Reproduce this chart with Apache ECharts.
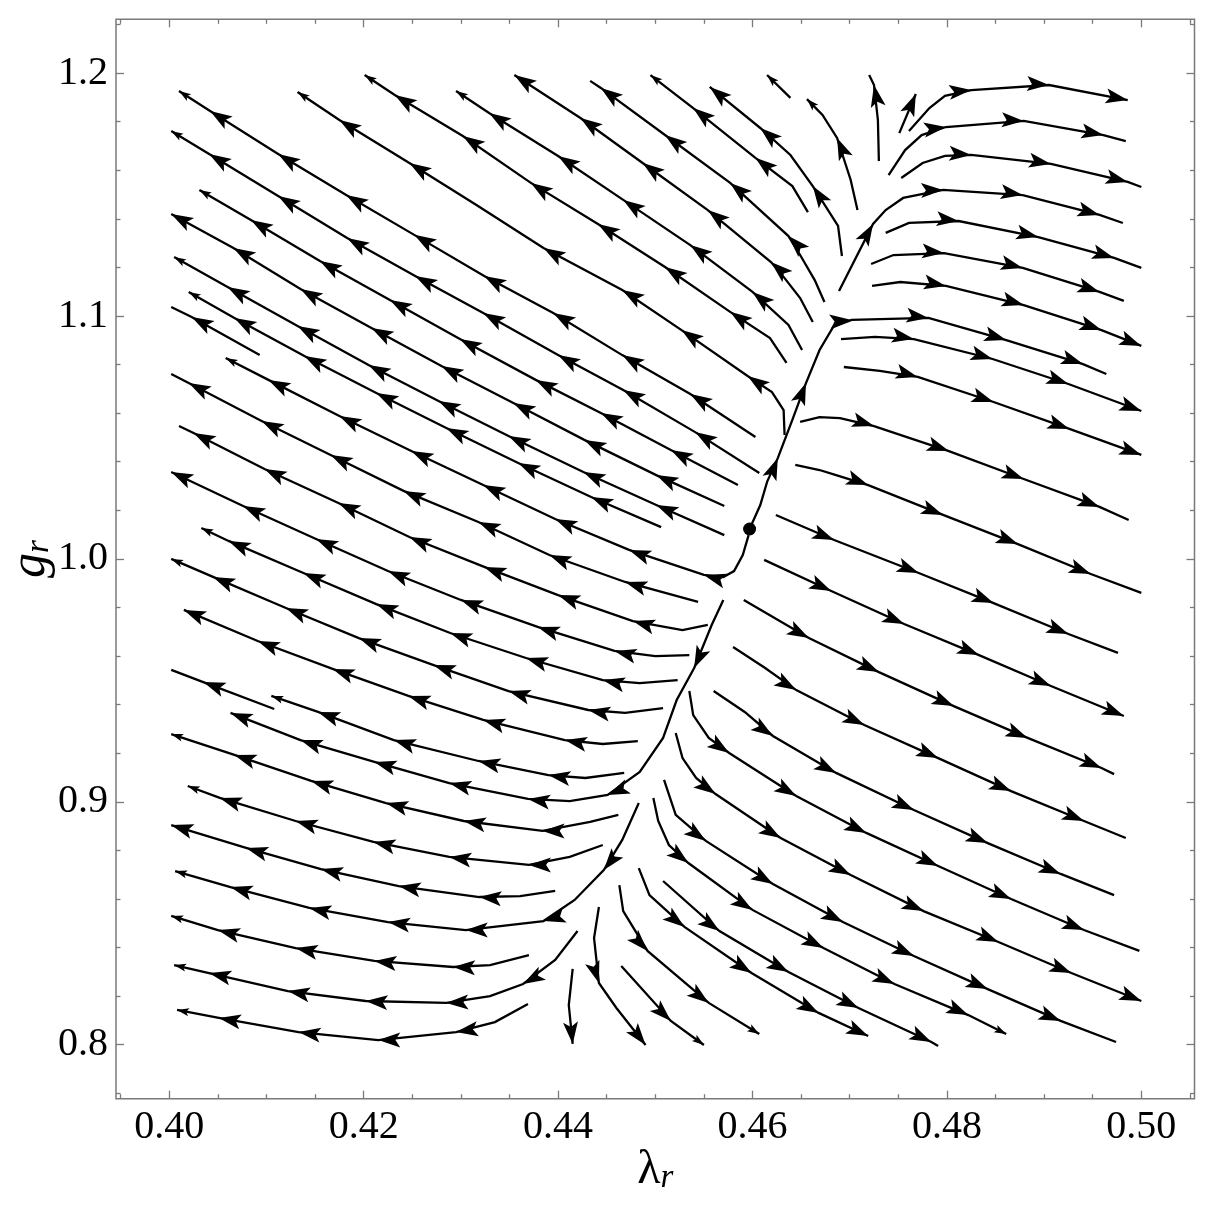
<!DOCTYPE html>
<html>
<head>
<meta charset="utf-8">
<script src="https://cdn.jsdelivr.net/npm/echarts@6.0.0/dist/echarts.min.js"></script>
<style>
  html, body { margin: 0; padding: 0; background: #fff; }
  #chart { width: 1206px; height: 1212px; }
</style>
</head>
<body>
<div id="chart"></div>
<script>
// axis extents and ticks
const xMin = 0.39452, xMax = 0.50547;
const yMin = 0.77777, yMax = 1.22215;
const xMajorTicks = [0.40, 0.42, 0.44, 0.46, 0.48, 0.50];
const xMinorTicks = [0.395, 0.405, 0.41, 0.415, 0.425, 0.43, 0.435, 0.445, 0.45, 0.455,
  0.465, 0.47, 0.475, 0.485, 0.49, 0.495, 0.505];
const yMajorTicks = [0.8, 0.9, 1.0, 1.1, 1.2];
const yMinorTicks = [0.78, 0.82, 0.84, 0.86, 0.88, 0.92, 0.94, 0.96, 0.98, 1.02, 1.04,
  1.06, 1.08, 1.12, 1.14, 1.16, 1.18, 1.22];

// fixed point (lambda_r, g_r)
const fixedPoint = [[0.4597, 1.0123]];

// streamlines, points in flow order.
// [lambda, g] = arrowhead here, [lambda, g, 0] = plain vertex, [lambda, g, 1] = small end arrowhead
const topLines = [
  [[0.4708,1.1436,0],[0.4701,1.1560,0],[0.4687,1.1733],[0.4672,1.1828,0],[0.4656,1.1893,1]],
  [[0.4692,1.1247,0],[0.4688,1.1371,0],[0.4662,1.1535],[0.4639,1.1663,0],[0.4608,1.1774],[0.4556,1.1943]],
  [[0.4657,1.1428,0],[0.4641,1.1535,0],[0.4603,1.1651],[0.4539,1.1856],[0.4495,1.1992,1]],
  [[0.4674,1.1058,0],[0.4664,1.1148,0],[0.4649,1.1251,0],[0.4637,1.1329],[0.4577,1.1548],[0.4510,1.1745],[0.4444,1.1939],[0.4433,1.1968,0]],
  [[0.4662,1.0975,0],[0.4649,1.1074,0],[0.4633,1.1156,0],[0.4619,1.1222],[0.4554,1.1436],[0.4487,1.1630],[0.4423,1.1815],[0.4355,1.1992]],
  [[0.4651,1.0860,0],[0.4637,1.0963,0],[0.4600,1.1099],[0.4536,1.1292],[0.4467,1.1478],[0.4400,1.1659],[0.4329,1.1836],[0.4295,1.1926,1]],
  [[0.4635,1.0807,0],[0.4618,1.0909,0],[0.4577,1.1017],[0.4510,1.1202],[0.4441,1.1379],[0.4372,1.1548],[0.4302,1.1741],[0.4232,1.1910],[0.4201,1.1992,1]],
  [[0.4633,1.0510,0],[0.4632,1.0613,0],[0.4620,1.0687,0],[0.4595,1.0753],[0.4527,1.0942],[0.4466,1.1107],[0.4385,1.1280],[0.4316,1.1457,0],[0.4247,1.1630],[0.4175,1.1807],[0.4132,1.1922,1]],
  [[0.4639,1.1898,0],[0.4615,1.1992,1]],
  [[0.4730,1.1638,0],[0.4729,1.1807,0],[0.4725,1.1951],[0.4720,1.1992,0]],
  [[0.4751,1.1753,0],[0.4768,1.1914]]
];

const upperLeftLines = [
  [[0.4603,1.0502,0],[0.4536,1.0679],[0.4466,1.0839],[0.4395,1.1012],[0.4324,1.1165],[0.4252,1.1334],[0.4182,1.1498],[0.4112,1.1667],[0.4042,1.1844],[0.4010,1.1926,1]],
  [[0.4607,1.0354,0],[0.4541,1.0522],[0.4467,1.0695],[0.4400,1.0839],[0.4323,1.1012],[0.4253,1.1165],[0.4183,1.1321],[0.4112,1.1494],[0.4041,1.1667],[0.4002,1.1762,1]],
  [[0.4585,1.0304,0],[0.4516,1.0448],[0.4444,1.0601],[0.4377,1.0737],[0.4299,1.0905],[0.4227,1.1066],[0.4155,1.1226],[0.4084,1.1395],[0.4031,1.1519,1]],
  [[0.4571,1.0218,0],[0.4501,1.0345],[0.4427,1.0490],[0.4354,1.0642],[0.4280,1.0794],[0.4208,1.0951],[0.4135,1.1111],[0.4066,1.1280],[0.4002,1.1420]],
  [[0.4571,1.0098,0],[0.4501,1.0222],[0.4426,1.0358],[0.4349,1.0506],[0.4277,1.0650],[0.4205,1.0798],[0.4132,1.0959],[0.4060,1.1119],[0.4005,1.1243,1]],
  [[0.4506,1.0131,0],[0.4434,1.0255],[0.4359,1.0395],[0.4285,1.0539],[0.4213,1.0683],[0.4139,1.0835],[0.4067,1.0992],[0.4020,1.1099,1]],
  [[0.4093,1.0839,0],[0.4023,1.0996],[0.4002,1.1037,0]],
  [[0.4596,1.0098,0],[0.4590,1.0016,0],[0.4581,0.9950,0],[0.4570,0.9925,0],[0.4550,0.9934],[0.4473,1.0037],[0.4397,1.0164],[0.4323,1.0304],[0.4249,1.0444],[0.4175,1.0588],[0.4102,1.0737],[0.4058,1.0827,1]]
];

const lowerLeftLines = [
  [[0.4544,0.9823,0],[0.4469,0.9905],[0.4391,1.0016],[0.4318,1.0152],[0.4241,1.0280],[0.4166,1.0428],[0.4095,1.0568],[0.4020,1.0724],[0.4002,1.0761,0]],
  [[0.4554,0.9728,0],[0.4528,0.9707,0],[0.4477,0.9744],[0.4400,0.9851],[0.4324,0.9967],[0.4247,1.0090],[0.4174,1.0230],[0.4098,1.0370],[0.4025,1.0518],[0.4010,1.0547,0]],
  [[0.4535,0.9604,0],[0.4500,0.9600,0],[0.4458,0.9621],[0.4379,0.9720],[0.4300,0.9831],[0.4225,0.9950],[0.4151,1.0082],[0.4076,1.0218],[0.4002,1.0358]],
  [[0.4523,0.9501,0],[0.4484,0.9489,0],[0.4446,0.9501],[0.4367,0.9592],[0.4289,0.9695],[0.4213,0.9814],[0.4138,0.9942],[0.4061,1.0074],[0.4033,1.0127,1]],
  [[0.4508,0.9386,0],[0.4469,0.9366,0],[0.4431,0.9378],[0.4349,0.9456],[0.4272,0.9563],[0.4195,0.9674],[0.4120,0.9798],[0.4045,0.9926],[0.4002,1.0000,1]],
  [[0.4482,0.9250,0],[0.4446,0.9238,0],[0.4407,0.9254],[0.4323,0.9337],[0.4246,0.9436],[0.4168,0.9547],[0.4091,0.9662],[0.4015,0.9790]],
  [[0.4108,0.9382,0],[0.4035,0.9493],[0.4002,0.9543,0]],
  [[0.4468,0.9119,0],[0.4428,0.9098,0],[0.4390,0.9110],[0.4318,0.9168],[0.4231,0.9254],[0.4153,0.9370],[0.4105,0.9436,1]],
  [[0.4570,0.9831,0],[0.4558,0.9728,0],[0.4540,0.9551],[0.4522,0.9419,0],[0.4508,0.9263,0],[0.4484,0.9123,0],[0.4451,0.9028],[0.4412,0.9003,0],[0.4369,0.9012],[0.4288,0.9077],[0.4211,0.9164],[0.4135,0.9254],[0.4063,0.9366]],
  [[0.4462,0.8946,0],[0.4433,0.8917,0],[0.4384,0.8880],[0.4303,0.8921],[0.4223,0.8995],[0.4146,0.9086],[0.4067,0.9193],[0.4002,0.9279,1]],
  [[0.4446,0.8822,0],[0.4412,0.8773,0],[0.4370,0.8740],[0.4288,0.8773],[0.4210,0.8835],[0.4130,0.8921],[0.4052,0.9016],[0.4019,0.9065,1]],
  [[0.4397,0.8633,0],[0.4361,0.8612,0],[0.4319,0.8608],[0.4236,0.8653],[0.4156,0.8723],[0.4079,0.8810],[0.4002,0.8904]],
  [[0.4483,0.8995,0],[0.4466,0.8843,0],[0.4447,0.8719],[0.4417,0.8596,0],[0.4385,0.8509],[0.4305,0.8472],[0.4225,0.8505],[0.4144,0.8563],[0.4063,0.8649],[0.4006,0.8715,1]],
  [[0.4370,0.8369,0],[0.4330,0.8328,0],[0.4292,0.8320],[0.4211,0.8345],[0.4130,0.8398],[0.4050,0.8472],[0.4002,0.8530,1]],
  [[0.4420,0.8468,0],[0.4397,0.8349,0],[0.4364,0.8250],[0.4330,0.8200,0],[0.4285,0.8172],[0.4202,0.8180],[0.4122,0.8221],[0.4041,0.8295],[0.4005,0.8328,1]],
  [[0.4369,0.8168,0],[0.4335,0.8093,0],[0.4295,0.8052],[0.4215,0.8019],[0.4133,0.8052],[0.4051,0.8110],[0.4008,0.8143,1]]
];

const rightLines = [
  [[0.4597,1.0123,0],[0.4608,1.0222,0],[0.4615,1.0317,0],[0.4626,1.0415],[0.4641,1.0572,0],[0.4655,1.0724],[0.4669,1.0860,0],[0.4683,1.0955,0],[0.4702,1.0984],[0.4781,1.0992],[0.4861,1.0901],[0.4940,1.0802],[0.4964,1.0761,0]],
  [[0.4761,1.1762,0],[0.4782,1.1856,0],[0.4798,1.1906,0],[0.4825,1.1930],[0.4905,1.1951],[0.4986,1.1889]],
  [[0.4740,1.1580,0],[0.4757,1.1683,0],[0.4774,1.1745,0],[0.4799,1.1778],[0.4879,1.1803],[0.4961,1.1745],[0.4984,1.1720,0]],
  [[0.4753,1.1568,0],[0.4775,1.1630,0],[0.4798,1.1659,0],[0.4825,1.1663],[0.4907,1.1626],[0.4986,1.1552],[0.5000,1.1531,0]],
  [[0.4689,1.1103,0],[0.4724,1.1379],[0.4737,1.1436,0],[0.4755,1.1486,0],[0.4796,1.1519],[0.4878,1.1498],[0.4957,1.1416],[0.4981,1.1383,0]],
  [[0.4737,1.1342,0],[0.4761,1.1383,0],[0.4812,1.1391],[0.4894,1.1325],[0.4972,1.1239],[0.5000,1.1198,0]],
  [[0.4722,1.1214,0],[0.4745,1.1251,0],[0.4797,1.1259],[0.4878,1.1198],[0.4957,1.1099],[0.4982,1.1062,0]],
  [[0.4723,1.1124,0],[0.4752,1.1140,0],[0.4799,1.1124],[0.4879,1.1045],[0.4959,1.0942],[0.5000,1.0877]],
  [[0.4691,1.0905,0],[0.4726,1.0914,0],[0.4766,1.0905],[0.4847,1.0823],[0.4925,1.0720],[0.5000,1.0609]],
  [[0.4694,1.0790,0],[0.4731,1.0774,0],[0.4770,1.0749],[0.4848,1.0646],[0.4926,1.0535],[0.5000,1.0428]],
  [[0.4649,1.0564,0],[0.4669,1.0584,0],[0.4690,1.0580,0],[0.4725,1.0547],[0.4802,1.0444],[0.4879,1.0329],[0.4957,1.0214],[0.4987,1.0160,0]],
  [[0.4644,1.0387,0],[0.4669,1.0366,0],[0.4686,1.0345,0],[0.4719,1.0304],[0.4796,1.0181],[0.4873,1.0061],[0.4948,0.9938],[0.5000,0.9860,0]],
  [[0.4624,1.0181,0],[0.4684,1.0078],[0.4771,0.9942],[0.4848,0.9818],[0.4925,0.9691],[0.4976,0.9613,0]],
  [[0.4612,0.9996,0],[0.4681,0.9868],[0.4756,0.9732],[0.4833,0.9604],[0.4907,0.9477],[0.4982,0.9353]],
  [[0.4591,0.9831,0],[0.4658,0.9674],[0.4730,0.9534],[0.4807,0.9394],[0.4883,0.9263],[0.4959,0.9139],[0.4972,0.9114,0]],
  [[0.4580,0.9637,0],[0.4613,0.9551,0],[0.4645,0.9460],[0.4715,0.9316],[0.4791,0.9180],[0.4866,0.9044],[0.4941,0.8921],[0.4984,0.8851,0]]
];

const bottomLines = [
  [[0.4560,0.9456,0],[0.4592,0.9370,0],[0.4621,0.9271],[0.4686,0.9119],[0.4766,0.8966],[0.4842,0.8830],[0.4917,0.8703],[0.4972,0.8616,0]],
  [[0.4535,0.9456,0],[0.4539,0.9357,0],[0.4555,0.9263,0],[0.4576,0.9201],[0.4645,0.9024],[0.4717,0.8872],[0.4791,0.8736],[0.4866,0.8600],[0.4941,0.8472],[0.4998,0.8386,0]],
  [[0.4521,0.9283,0],[0.4528,0.9180,0],[0.4542,0.9098,0],[0.4562,0.9032],[0.4629,0.8851],[0.4701,0.8699],[0.4776,0.8550],[0.4853,0.8423],[0.4928,0.8295],[0.5000,0.8180]],
  [[0.4509,0.9090,0],[0.4521,0.8946,0],[0.4552,0.8839],[0.4621,0.8662],[0.4693,0.8505],[0.4766,0.8365],[0.4842,0.8229],[0.4917,0.8098],[0.4974,0.8011,0]],
  [[0.4498,0.9016,0],[0.4503,0.8921,0],[0.4514,0.8822,0],[0.4534,0.8748],[0.4600,0.8555],[0.4673,0.8398],[0.4746,0.8250],[0.4822,0.8122],[0.4861,0.8044,1]],
  [[0.4508,0.8674,0],[0.4566,0.8468],[0.4637,0.8299],[0.4709,0.8151],[0.4784,0.8011],[0.4791,0.7995,0]],
  [[0.4483,0.8727,0],[0.4494,0.8616,0],[0.4530,0.8485],[0.4599,0.8295],[0.4668,0.8131],[0.4719,0.8036]],
  [[0.4463,0.8657,0],[0.4467,0.8550,0],[0.4492,0.8386],[0.4555,0.8172],[0.4607,0.8044,1]],
  [[0.4442,0.8567,0],[0.4437,0.8439,0],[0.4442,0.8254],[0.4460,0.8151,0],[0.4490,0.7999]],
  [[0.4465,0.8324,0],[0.4516,0.8098],[0.4550,0.7999,1]],
  [[0.4415,0.8312,0],[0.4411,0.8163,0],[0.4415,0.8003]]
];

const frameColor = '#7a7a7a';
const serif = 'Liberation Serif';

const allLines = [].concat(topLines, upperLeftLines, lowerLeftLines, rightLines, bottomLines);
const lineData = allLines.map(l => ({ coords: l.map(p => [p[0], p[1]]) }));

// arrowheads: tip point, previous point and next point give the direction
const arrowData = [];
allLines.forEach(l => {
  for (let i = 1; i < l.length; i++) {
    const p = l[i];
    if (p[2] === 0) continue;
    const prev = l[i - 1];
    const next = l[i + 1] || p;
    arrowData.push([p[0], p[1], prev[0], prev[1], next[0], next[1], p[2] === 1 ? 0 : 1]);
  }
});

function renderArrow(params, api) {
  const tip = api.coord([api.value(0), api.value(1)]);
  const a = api.coord([api.value(2), api.value(3)]);
  const b = api.coord([api.value(4), api.value(5)]);
  let dx = b[0] - a[0], dy = b[1] - a[1];
  const len = Math.hypot(dx, dy) || 1;
  dx /= len; dy /= len;
  const big = api.value(6) === 1;
  const L = big ? 22 : 12, W = big ? 15 : 8, N = L * 0.78;
  const bx = tip[0] - dx * L, by = tip[1] - dy * L;
  const nx = -dy, ny = dx;
  return {
    type: 'polygon',
    shape: { points: [
      tip,
      [bx + nx * W / 2, by + ny * W / 2],
      [tip[0] - dx * N, tip[1] - dy * N],
      [bx - nx * W / 2, by - ny * W / 2]
    ] },
    style: { fill: '#000' }
  };
}

function xAxisOf(position, ticks, len, withLabels) {
  return {
    type: 'value', position: position, min: xMin, max: xMax,
    splitLine: { show: false }, axisLine: { show: false },
    axisTick: { show: true, inside: true, length: len, customValues: ticks,
      lineStyle: { color: frameColor, width: 1.3 } },
    axisLabel: withLabels ? {
      customValues: ticks, margin: 9, color: '#000',
      fontFamily: serif, fontSize: 40,
      formatter: v => v.toFixed(2)
    } : { show: false }
  };
}
function yAxisOf(position, ticks, len, withLabels) {
  return {
    type: 'value', position: position, min: yMin, max: yMax,
    splitLine: { show: false }, axisLine: { show: false },
    axisTick: { show: true, inside: true, length: len, customValues: ticks,
      lineStyle: { color: frameColor, width: 1.3 } },
    axisLabel: withLabels ? {
      customValues: ticks, margin: 8, color: '#000',
      fontFamily: serif, fontSize: 40,
      formatter: v => v.toFixed(1)
    } : { show: false }
  };
}

const xMain = xAxisOf('bottom', xMajorTicks, 8, true);
xMain.name = '{l|λ}{s|r}';
xMain.nameLocation = 'middle';
xMain.nameGap = 44;
xMain.nameMoveOverlap = false;
xMain.nameTextStyle = { rich: {
  l: { fontFamily: serif, fontSize: 48, lineHeight: 52, verticalAlign: 'bottom', color: '#000' },
  s: { fontFamily: serif, fontStyle: 'italic', fontSize: 33, lineHeight: 24, verticalAlign: 'bottom', color: '#000' }
} };

const yMain = yAxisOf('left', yMajorTicks, 8, true);
yMain.name = '{l|g}{s|r}';
yMain.nameLocation = 'middle';
yMain.nameRotate = 90;
yMain.nameGap = 60;
yMain.nameMoveOverlap = false;
yMain.nameTextStyle = { rich: {
  l: { fontFamily: serif, fontStyle: 'italic', fontSize: 50, lineHeight: 52, verticalAlign: 'bottom', color: '#000' },
  s: { fontFamily: serif, fontStyle: 'italic', fontSize: 33, lineHeight: 24, verticalAlign: 'bottom', color: '#000' }
} };

const chart = echarts.init(document.getElementById('chart'));
chart.setOption({
  animation: false,
  backgroundColor: '#fff',
  grid: { left: 116, right: 11.5, top: 19.3, bottom: 113.3, show: true,
    containLabel: false, outerBoundsMode: 'none',
    borderColor: frameColor, borderWidth: 1.5 },
  xAxis: [
    xMain,
    xAxisOf('bottom', xMinorTicks, 4.5, false),
    xAxisOf('top', xMajorTicks, 8, false),
    xAxisOf('top', xMinorTicks, 4.5, false)
  ],
  yAxis: [
    yMain,
    yAxisOf('left', yMinorTicks, 4.5, false),
    yAxisOf('right', yMajorTicks, 8, false),
    yAxisOf('right', yMinorTicks, 4.5, false)
  ],
  series: [
    {
      type: 'lines', coordinateSystem: 'cartesian2d', polyline: true,
      xAxisIndex: 0, yAxisIndex: 0, silent: true,
      lineStyle: { color: '#000', width: 2.3, opacity: 1 },
      data: lineData
    },
    {
      type: 'custom', coordinateSystem: 'cartesian2d',
      xAxisIndex: 0, yAxisIndex: 0, silent: true,
      encode: { x: 0, y: 1 },
      renderItem: renderArrow,
      data: arrowData
    },
    {
      type: 'scatter', xAxisIndex: 0, yAxisIndex: 0, silent: true,
      symbol: 'circle', symbolSize: 13,
      itemStyle: { color: '#000', opacity: 1 },
      data: fixedPoint
    }
  ]
});
</script>
</body>
</html>
